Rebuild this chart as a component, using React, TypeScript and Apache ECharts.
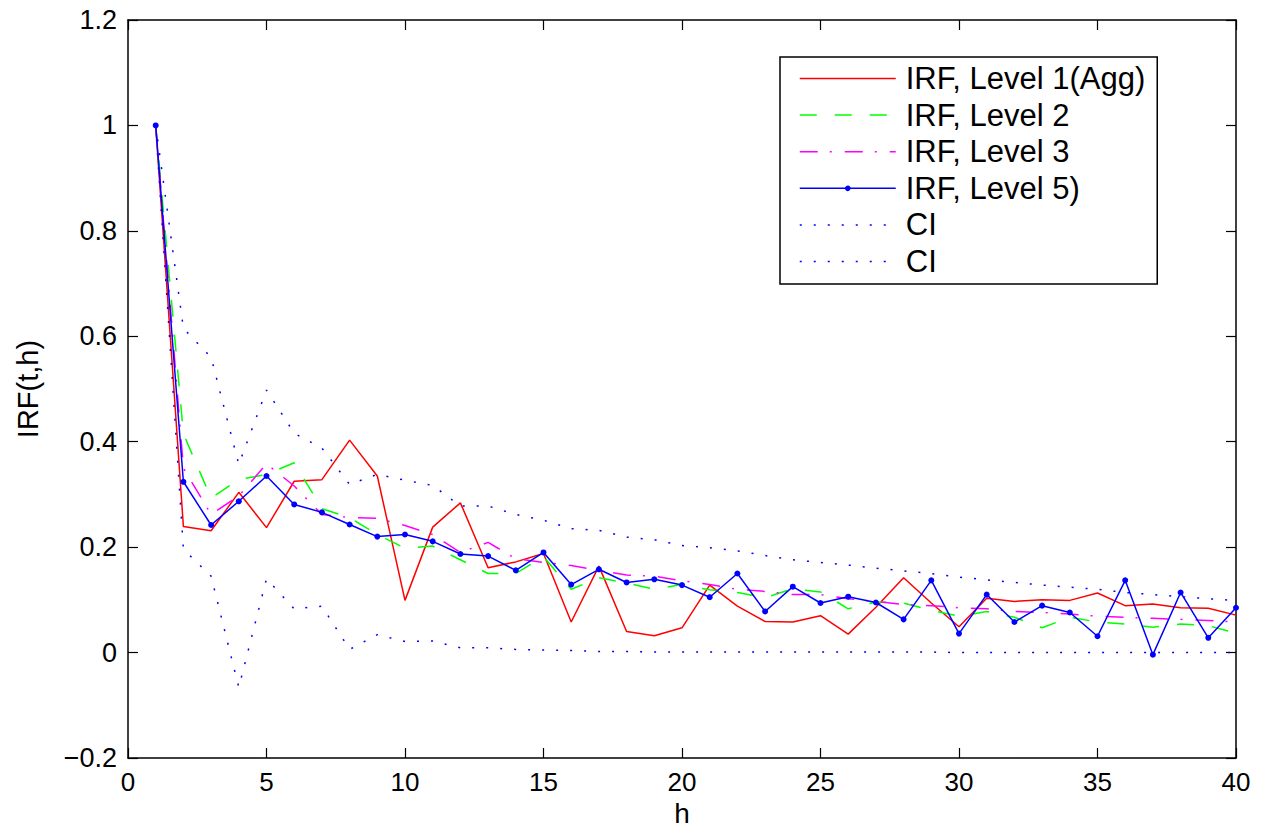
import React, { useEffect, useRef } from "react";
import * as echarts from "echarts";

const H = [1, 2, 3, 4, 5, 6, 7, 8, 9, 10, 11, 12, 13, 14, 15, 16, 17, 18, 19, 20, 21, 22, 23, 24, 25, 26, 27, 28, 29, 30, 31, 32, 33, 34, 35, 36, 37, 38, 39, 40];

const level1 = [1.0, 0.239, 0.231, 0.304, 0.237, 0.325, 0.328, 0.403, 0.335, 0.099, 0.238, 0.284, 0.161, 0.172, 0.188, 0.058, 0.164, 0.040, 0.032, 0.047, 0.128, 0.088, 0.059, 0.058, 0.070, 0.035, 0.086, 0.142, 0.094, 0.049, 0.103, 0.097, 0.100, 0.099, 0.113, 0.089, 0.092, 0.085, 0.084, 0.071];

const level2 = [1.0, 0.415, 0.293, 0.328, 0.338, 0.360, 0.273, 0.256, 0.224, 0.198, 0.202, 0.176, 0.150, 0.150, 0.182, 0.120, 0.142, 0.132, 0.120, 0.129, 0.119, 0.114, 0.104, 0.121, 0.115, 0.083, 0.096, 0.094, 0.080, 0.069, 0.078, 0.067, 0.047, 0.067, 0.058, 0.054, 0.048, 0.054, 0.051, 0.037];

const level3 = [1.0, 0.350, 0.262, 0.297, 0.358, 0.316, 0.262, 0.256, 0.255, 0.241, 0.224, 0.190, 0.209, 0.178, 0.171, 0.165, 0.156, 0.147, 0.145, 0.136, 0.129, 0.120, 0.116, 0.110, 0.110, 0.102, 0.097, 0.091, 0.089, 0.085, 0.083, 0.078, 0.076, 0.073, 0.069, 0.067, 0.065, 0.063, 0.061, 0.058];

const level5 = [1.0, 0.324, 0.242, 0.287, 0.335, 0.281, 0.266, 0.243, 0.220, 0.224, 0.211, 0.187, 0.183, 0.156, 0.190, 0.129, 0.158, 0.133, 0.139, 0.128, 0.105, 0.150, 0.078, 0.125, 0.094, 0.106, 0.095, 0.063, 0.137, 0.036, 0.110, 0.058, 0.089, 0.076, 0.031, 0.137, -0.004, 0.114, 0.028, 0.085];

const ciUpper = [1.0, 0.615, 0.560, 0.357, 0.498, 0.416, 0.388, 0.319, 0.338, 0.327, 0.317, 0.278, 0.278, 0.262, 0.251, 0.235, 0.232, 0.219, 0.214, 0.203, 0.199, 0.193, 0.184, 0.176, 0.171, 0.166, 0.160, 0.155, 0.150, 0.143, 0.138, 0.133, 0.128, 0.124, 0.120, 0.114, 0.110, 0.106, 0.102, 0.099];

const ciLower = [1.0, 0.196, 0.145, -0.066, 0.140, 0.083, 0.088, 0.006, 0.034, 0.021, 0.022, 0.009, 0.009, 0.006, 0.005, 0.004, 0.002, 0.002, 0.001, 0.001, 0.001, 0.001, 0.001, 0.001, 0.001, 0.001, 0.001, 0.001, 0.001, 0.000, 0.000, 0.000, 0.000, 0.000, 0.000, 0.000, 0.000, 0.000, 0.000, 0.000];

const seriesNames = ["IRF, Level 1(Agg)", "IRF, Level 2", "IRF, Level 3", "IRF, Level 5)", "CI", "CI "];

const FONT = "'Liberation Sans', Arial, Helvetica, sans-serif";

function pairs(vals: number[]) {
  return H.map((h, i) => [h, vals[i]]);
}

export default function App() {
  const ref = useRef<HTMLDivElement>(null);
  useEffect(() => {
    if (!ref.current) return;
    const chart = echarts.init(ref.current, undefined, { renderer: "svg" });
    const yFmt = (v: number) => {
      const r = Math.round(v * 10) / 10;
      return r < 0 ? "\u2212" + String(Math.abs(r)) : String(r);
    };
    const axisLine = { show: true, onZero: false, lineStyle: { color: "#000", width: 1.5 } };
    const tick = { show: true, inside: true, length: 10, lineStyle: { color: "#000", width: 1.2 } };
    const lineBase = (name: string, vals: number[], color: string, type: any, extra: any = {}) => ({
      name,
      type: "line",
      data: pairs(vals),
      xAxisIndex: 0,
      yAxisIndex: 0,
      symbol: "none",
      showSymbol: false,
      lineStyle: { color, width: 1.5, type, cap: "butt" },
      itemStyle: { color },
      ...extra,
    });
    chart.setOption({
      animation: false,
      backgroundColor: "#fff",
      grid: { left: 128, right: 38, top: 20, bottom: 75, containLabel: false },
      legend: {
        orient: "vertical",
        left: 780,
        top: 57,
        itemWidth: 96,
        itemHeight: 7,
        itemGap: 5.6,
        padding: [6, 12, 7, 19],
        borderColor: "#000",
        borderWidth: 1.5,
        backgroundColor: "#fff",
        selectedMode: false,
        lineStyle: { width: 1.5 },
        textStyle: { fontSize: 31, fontFamily: FONT, color: "#000", padding: [0, 0, 0, 5] },
        data: seriesNames.map((n, i) =>
          i === 3 ? { name: n } : { name: n, itemStyle: { opacity: 0 } }
        ),
      },
      xAxis: [
        {
          type: "value",
          position: "bottom",
          min: 0,
          max: 40,
          interval: 5,
          axisLine,
          axisTick: tick,
          splitLine: { show: false },
          axisLabel: { fontSize: 26, color: "#000", fontFamily: FONT, margin: 11 },
          name: "h",
          nameLocation: "middle",
          nameGap: 40,
          nameTextStyle: { fontSize: 28, color: "#000", fontFamily: FONT },
        },
        {
          type: "value",
          position: "top",
          min: 0,
          max: 40,
          interval: 5,
          axisLine,
          axisTick: tick,
          splitLine: { show: false },
          axisLabel: { show: false },
        },
      ],
      yAxis: [
        {
          type: "value",
          position: "left",
          min: -0.2,
          max: 1.2,
          interval: 0.2,
          axisLine,
          axisTick: tick,
          splitLine: { show: false },
          axisLabel: { fontSize: 27, color: "#000", fontFamily: FONT, margin: 11, formatter: yFmt },
          name: "IRF(t,h)",
          nameLocation: "middle",
          nameGap: 86,
          nameTextStyle: { fontSize: 29, color: "#000", fontFamily: FONT },
        },
        {
          type: "value",
          position: "right",
          min: -0.2,
          max: 1.2,
          interval: 0.2,
          axisLine,
          axisTick: tick,
          splitLine: { show: false },
          axisLabel: { show: false },
        },
      ],
      series: [
        lineBase(seriesNames[0], level1, "#ff0000", "solid", { z: 2 }),
        lineBase(seriesNames[1], level2, "#00ff00", [17, 18], { z: 3 }),
        lineBase(seriesNames[2], level3, "#ff00ff", [18, 12, 2, 13], { z: 4 }),
        lineBase(seriesNames[3], level5, "#0000ff", "solid", {
          z: 5,
          symbol: "circle",
          showSymbol: true,
          symbolSize: 6,
        }),
        lineBase(seriesNames[4], ciUpper, "#0000ff", [2, 12], { z: 6 }),
        lineBase(seriesNames[5], ciLower, "#0000ff", [2, 12], { z: 6 }),
      ],
    });
    return () => chart.dispose();
  }, []);
  return (
    <div
      ref={ref}
      style={{ position: "absolute", left: 0, top: 0, width: 1274, height: 833, background: "#fff" }}
    />
  );
}
